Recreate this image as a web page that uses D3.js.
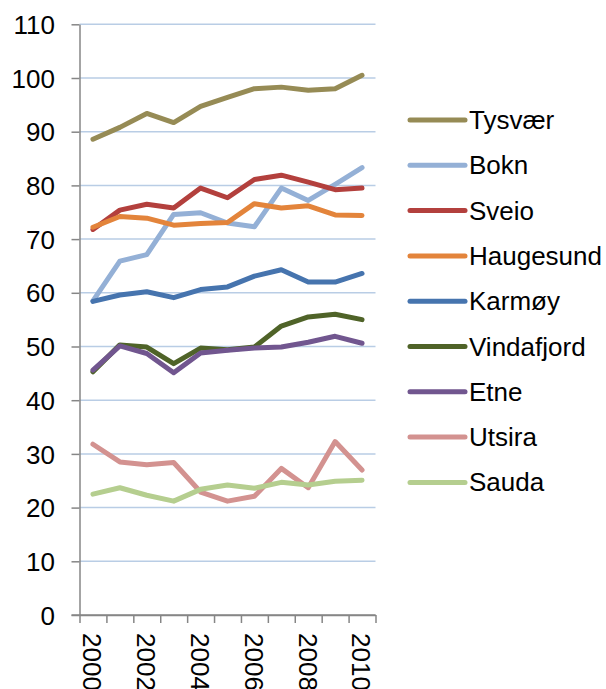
<!DOCTYPE html>
<html>
<head>
<meta charset="utf-8">
<script src="https://cdn.jsdelivr.net/npm/d3@7"></script>
<style>
  body { margin: 0; background: #fff; }
  text { font-family: "Liberation Sans", Arial, sans-serif; fill: #000; }
</style>
</head>
<body>
<div class="chart"></div>
<script>
var years = [2000, 2001, 2002, 2003, 2004, 2005, 2006, 2007, 2008, 2009, 2010];
var yTicks = [0, 10, 20, 30, 40, 50, 60, 70, 80, 90, 100, 110];
var xLabels = [2000, 2002, 2004, 2006, 2008, 2010];

var names = ["Tysvær", "Bokn", "Sveio", "Haugesund", "Karmøy", "Vindafjord", "Etne", "Utsira", "Sauda"];
var colors = ["#968b55", "#94b0d6", "#b3403d", "#e3843b", "#4674ae", "#4f6328", "#71568f", "#d39290", "#b5ce8f"];

var tysvaer    = [88.6, 90.8, 93.4, 91.7, 94.7, 96.4, 98.0, 98.3, 97.7, 98.0, 100.5];
var bokn       = [58.5, 65.9, 67.1, 74.6, 74.9, 73.0, 72.3, 79.5, 77.2, 80.2, 83.3];
var sveio      = [71.8, 75.4, 76.5, 75.8, 79.5, 77.7, 81.1, 81.9, 80.6, 79.2, 79.5];
var haugesund  = [72.2, 74.2, 73.9, 72.6, 72.9, 73.1, 76.6, 75.8, 76.2, 74.5, 74.4];
var karmoy     = [58.4, 59.6, 60.2, 59.1, 60.6, 61.1, 63.1, 64.3, 62.0, 62.0, 63.6];
var vindafjord = [45.3, 50.3, 49.9, 46.8, 49.7, 49.4, 49.9, 53.8, 55.5, 56.0, 55.0];
var etne       = [45.6, 50.1, 48.7, 45.1, 48.8, 49.3, 49.7, 49.9, 50.8, 51.9, 50.6];
var utsira     = [31.8, 28.5, 28.0, 28.4, 22.9, 21.2, 22.1, 27.3, 23.7, 32.3, 27.0];
var sauda      = [22.5, 23.7, 22.3, 21.2, 23.4, 24.2, 23.6, 24.7, 24.2, 24.9, 25.1];

var series = [tysvaer, bokn, sveio, haugesund, karmoy, vindafjord, etne, utsira, sauda];

var svgWidth = 606;
var svgHeight = 689;
var plotLeft = 79.5, plotRight = 375.5, plotTop = 24.3, plotBottom = 615;

var svg = d3.select(".chart")
            .append("svg")
            .attr("width", svgWidth)
            .attr("height", svgHeight);

var x = d3.scaleLinear().domain([1999.5, 2010.5]).range([plotLeft, plotRight]);
var y = d3.scaleLinear().domain([0, 110]).range([plotBottom, plotTop]);

// gridlines
svg.append("g")
    .selectAll("line")
    .data(yTicks.slice(1))
    .enter()
    .append("line")
    .attr("x1", plotLeft)
    .attr("x2", plotRight)
    .attr("y1", function(d) { return y(d); })
    .attr("y2", function(d) { return y(d); })
    .attr("stroke", "#b9cde5")
    .attr("stroke-width", 1.5);

// y axis
var yAxis = svg.append("g")
    .attr("transform", "translate(" + plotLeft + ",0)")
    .call(d3.axisLeft(y).tickValues(yTicks).tickSize(8).tickPadding(16.5).tickSizeOuter(0));
yAxis.selectAll("text").style("font-size", "26px").attr("dy", "0.35em");

// x axis ticks between categories
var boundaries = years.map(function(d) { return d - 0.5; }).concat([2010.5]);
svg.append("g")
    .attr("transform", "translate(0," + plotBottom + ")")
    .call(d3.axisBottom(x).tickValues(boundaries).tickSize(8).tickSizeOuter(0).tickFormat(""));

// x labels
var xAxis = svg.append("g")
    .attr("transform", "translate(0," + plotBottom + ")")
    .call(d3.axisBottom(x).tickValues(xLabels).tickSize(0).tickFormat(d3.format("d")));
xAxis.select(".domain").remove();
xAxis.selectAll("text")
    .style("font-size", "26px")
    .attr("text-anchor", "start")
    .attr("transform", "translate(-1,18) rotate(90)")
    .attr("x", 0)
    .attr("y", 0)
    .attr("dy", "0.35em");

svg.selectAll(".domain, .tick line").attr("stroke", "#868686").attr("stroke-width", 1.5);
// extend x axis line left to the y tick
svg.append("line")
    .attr("x1", plotLeft - 8).attr("x2", plotRight)
    .attr("y1", plotBottom).attr("y2", plotBottom)
    .attr("stroke", "#868686").attr("stroke-width", 1.5);

// lines, later series on top
var line = d3.line()
    .x(function(d, i) { return x(years[i]); })
    .y(function(d) { return y(d); });

svg.append("g")
    .selectAll("path")
    .data(series)
    .enter()
    .append("path")
    .attr("d", function(d) { return line(d); })
    .attr("fill", "none")
    .attr("stroke", function(d, i) { return colors[i]; })
    .attr("stroke-width", 5)
    .attr("stroke-linejoin", "round")
    .attr("stroke-linecap", "round");

// legend
var legend = svg.append("g")
    .selectAll("g")
    .data(names)
    .enter()
    .append("g")
    .attr("transform", function(d, i) { return "translate(410," + (120 + i * 45.3) + ")"; });

legend.append("line")
    .attr("x1", 0).attr("x2", 55)
    .attr("stroke", function(d, i) { return colors[i]; })
    .attr("stroke-width", 5)
    .attr("stroke-linecap", "round");

legend.append("text")
    .attr("x", 59)
    .attr("y", 9)
    .style("font-size", "26px")
    .text(function(d) { return d; });
</script>
</body>
</html>
